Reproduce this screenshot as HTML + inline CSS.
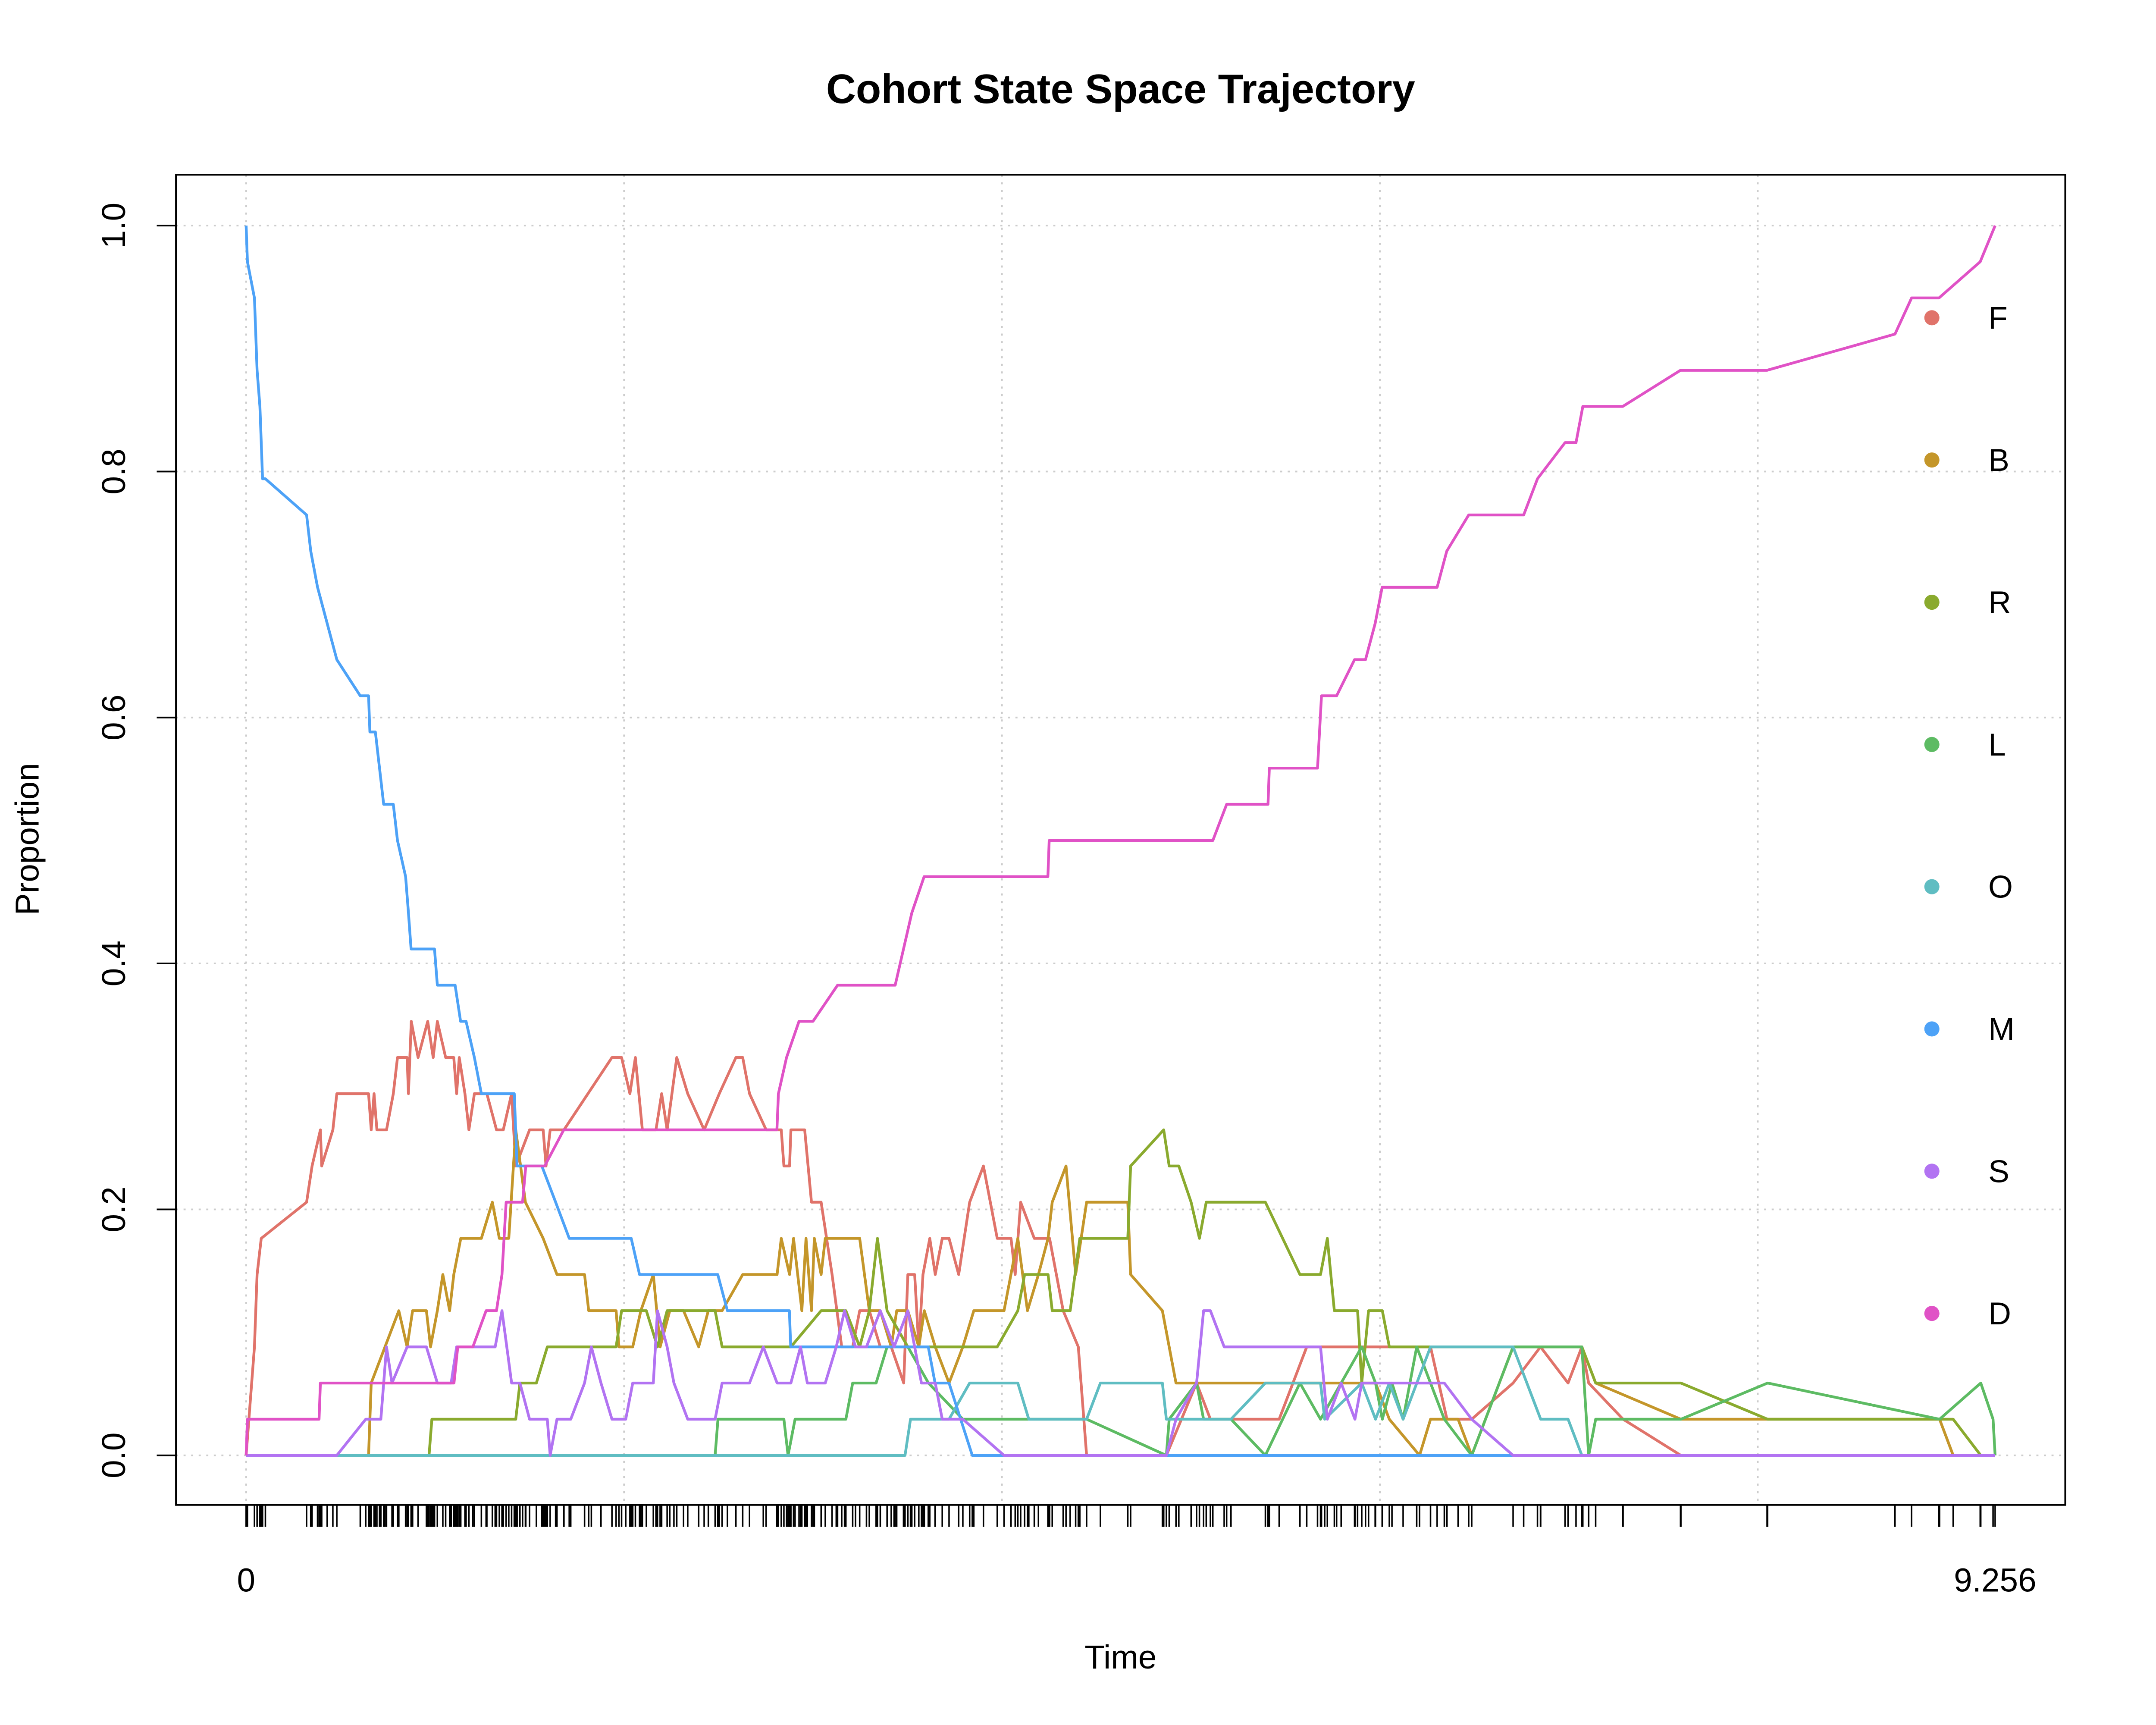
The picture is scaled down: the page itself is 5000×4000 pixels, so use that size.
<!DOCTYPE html>
<html><head><meta charset="utf-8"><style>
html,body{margin:0;padding:0;background:#fff;}
svg{display:block;font-family:"Liberation Sans",Arial,sans-serif;}
</style></head><body>
<svg id="chart" width="5000" height="4000" viewBox="0 0 1568 1254" preserveAspectRatio="none" xmlns="http://www.w3.org/2000/svg">
<rect width="1568" height="1254" fill="#fff"/>
<text x="815" y="75" text-anchor="middle" font-size="30" font-weight="bold">Cohort State Space Trajectory</text>
<text x="815" y="1213" text-anchor="middle" font-size="24">Time</text>
<text transform="translate(28,610) rotate(-90)" text-anchor="middle" font-size="24">Proportion</text>
<g id="grid"></g>
<g id="series"></g>
<rect x="128" y="127" width="1374" height="967" fill="none" stroke="#000" stroke-width="1.3"/>
<g id="axes"></g>
<g id="legend"></g>
</svg>
<script>
const N = 34;
const tMax = 9.256;
const yTicks = [0, 0.2, 0.4, 0.6, 0.8, 1.0];
const yTickLabels = ["0.0","0.2","0.4","0.6","0.8","1.0"];
const xGrid = [0, 2, 4, 6, 8];
const xTickLabels = ["0", "9.256"];
const categories = ["F","B","R","L","O","M","S","D"];
const colors = ["#E0736A","#C4962A","#8AAA2E","#5DBB63","#5FBDC2","#4DA2F7","#B273F2","#E052C6"];

const seriesF = [[0,0],[.044,3],[.058,5],[.080,6],[.320,7],[.349,8],[.393,9],[.400,8],[.459,9],[.480,10],[.648,10],[.662,9],[.677,10],[.692,9],[.743,9],[.779,10],[.801,11],[.852,11],[.859,10],[.874,12],[.910,11],[.961,12],[.990,11],[1.012,12],[1.056,11],[1.099,11],[1.114,10],[1.128,11],[1.158,10],[1.179,9],[1.208,10],[1.274,10],[1.325,9],[1.361,9],[1.405,10],[1.427,8],[1.500,9],[1.572,9],[1.587,8],[1.609,9],[1.682,9],[1.936,11],[1.987,11],[2.031,10],[2.060,11],[2.097,9],[2.169,9],[2.199,10],[2.228,9],[2.279,11],[2.337,10],[2.424,9],[2.504,10],[2.592,11],[2.628,11],[2.664,10],[2.752,9],[2.832,9],[2.846,8],[2.876,8],[2.883,9],[2.956,9],[2.992,7],[3.043,7],[3.101,5],[3.152,3],[3.210,3],[3.247,4],[3.298,4],[3.356,3],[3.414,3],[3.480,2],[3.502,5],[3.538,5],[3.560,3],[3.582,5],[3.618,6],[3.647,5],[3.684,6],[3.720,6],[3.771,5],[3.829,7],[3.902,8],[3.975,6],[4.048,6],[4.070,5],[4.099,7],[4.171,6],[4.252,6],[4.324,4],[4.404,3],[4.448,0],[4.870,0],[5.030,2],[5.103,1],[5.467,1],[5.613,3],[5.722,3],[5.904,3],[6.268,3],[6.355,1],[6.486,1],[6.705,2],[6.850,3],[6.996,2],[7.069,3],[7.105,2],[7.287,1],[7.593,0],[9.256,0]];
const seriesB = [[0,0],[.648,0],[.662,2],[.735,3],[.808,4],[.852,3],[.881,4],[.954,4],[.976,3],[1.012,4],[1.041,5],[1.077,4],[1.099,5],[1.136,6],[1.245,6],[1.303,7],[1.340,6],[1.390,6],[1.427,9],[1.478,7],[1.572,6],[1.645,5],[1.791,5],[1.813,4],[1.958,4],[1.973,3],[2.046,3],[2.089,4],[2.155,5],[2.191,3],[2.242,4],[2.315,4],[2.395,3],[2.446,4],[2.519,4],[2.628,5],[2.810,5],[2.832,6],[2.876,5],[2.897,6],[2.941,4],[2.963,6],[2.992,4],[3.007,6],[3.043,5],[3.065,6],[3.247,6],[3.298,4],[3.356,4],[3.414,3],[3.443,4],[3.502,4],[3.560,3],[3.589,4],[3.647,3],[3.720,2],[3.793,3],[3.851,4],[4.011,4],[4.084,6],[4.135,4],[4.193,5],[4.244,6],[4.266,7],[4.339,8],[4.390,5],[4.448,7],[4.666,7],[4.681,5],[4.849,4],[4.921,2],[5.977,2],[6.050,1],[6.210,0],[6.268,1],[6.414,1],[6.486,0],[6.705,3],[7.069,3],[7.142,2],[7.593,1],[8.962,1],[9.034,0],[9.256,0]];
const seriesR = [[0,0],[.968,0],[.983,1],[1.427,1],[1.449,2],[1.536,2],[1.594,3],[1.958,3],[1.987,4],[2.118,4],[2.177,3],[2.228,4],[2.482,4],[2.519,3],[2.883,3],[3.043,4],[3.174,4],[3.247,3],[3.298,4],[3.341,6],[3.392,4],[3.502,3],[3.975,3],[4.084,4],[4.120,5],[4.244,5],[4.266,4],[4.361,4],[4.412,6],[4.666,6],[4.681,8],[4.856,9],[4.885,8],[4.936,8],[5.001,7],[5.045,6],[5.081,7],[5.394,7],[5.577,5],[5.686,5],[5.722,6],[5.759,4],[5.882,4],[5.904,2],[5.940,4],[6.013,4],[6.050,3],[7.069,3],[7.142,2],[7.593,2],[8.052,1],[9.034,1],[9.180,0],[9.256,0]];
const seriesL = [[0,0],[2.482,0],[2.497,1],[2.846,1],[2.868,0],[2.905,1],[3.174,1],[3.210,2],[3.334,2],[3.392,3],[3.502,3],[3.611,2],[3.793,1],[4.448,1],[4.870,0],[4.885,1],[5.030,2],[5.067,1],[5.212,1],[5.394,0],[5.577,2],[5.686,1],[5.904,3],[5.977,2],[6.013,1],[6.064,2],[6.123,1],[6.195,3],[6.341,1],[6.486,0],[6.705,3],[7.069,3],[7.105,0],[7.142,1],[7.593,1],[8.052,2],[8.962,1],[9.180,2],[9.245,1],[9.256,0]];
const seriesO = [[0,0],[3.487,0],[3.516,1],[3.720,1],[3.829,2],[4.084,2],[4.142,1],[4.448,1],[4.521,2],[4.849,2],[4.870,1],[5.212,1],[5.394,2],[5.686,2],[5.708,1],[5.904,2],[5.977,1],[6.050,2],[6.123,1],[6.268,3],[6.705,3],[6.851,1],[6.996,1],[7.069,0],[9.256,0]];
const seriesM = [[0,34],[.007,33],[.044,32],[.058,30],[.073,29],[.087,27],[.102,27],[.320,26],[.342,25],[.378,24],[.429,23],[.480,22],[.604,21],[.648,21],[.655,20],[.684,20],[.706,19],[.728,18],[.779,18],[.801,17],[.844,16],[.859,15],[.873,14],[.997,14],[1.012,13],[1.106,13],[1.135,12],[1.164,12],[1.208,11],[1.245,10],[1.303,10],[1.419,10],[1.434,8],[1.565,8],[1.638,7],[1.710,6],[2.038,6],[2.082,5],[2.496,5],[2.547,4],[2.875,4],[2.882,3],[3.479,3],[3.610,3],[3.646,2],[3.720,2],[3.843,0],[9.256,0]];
const seriesS = [[0,0],[.480,0],[.633,1],[.713,1],[.743,3],[.772,2],[.852,3],[.954,3],[1.012,2],[1.085,2],[1.114,3],[1.318,3],[1.354,4],[1.405,2],[1.449,2],[1.500,1],[1.594,1],[1.609,0],[1.645,1],[1.718,1],[1.791,2],[1.827,3],[1.878,2],[1.936,1],[2.009,1],[2.046,2],[2.155,2],[2.177,4],[2.228,3],[2.264,2],[2.337,1],[2.482,1],[2.519,2],[2.664,2],[2.737,3],[2.810,2],[2.883,2],[2.934,3],[2.970,2],[3.065,2],[3.123,3],[3.167,4],[3.225,3],[3.283,3],[3.356,4],[3.429,3],[3.502,4],[3.574,2],[3.647,2],[3.684,1],[3.793,1],[4.011,0],[4.870,0],[4.921,1],[5.030,2],[5.067,4],[5.103,4],[5.176,3],[5.686,3],[5.722,1],[5.795,2],[5.868,1],[5.904,2],[6.341,2],[6.486,1],[6.705,0],[9.256,0]];
const seriesD = [[0,0],[.007,1],[.386,1],[.393,2],[1.100,2],[1.120,3],[1.200,3],[1.270,4],[1.325,4],[1.354,5],[1.376,7],[1.405,7],[1.463,7],[1.480,8],[1.580,8],[1.681,9],[2.809,9],[2.817,10],[2.860,11],[2.926,12],[3.000,12],[3.130,13],[3.435,13],[3.479,14],[3.523,15],[3.588,16],[4.243,16],[4.250,17],[5.116,17],[5.189,18],[5.408,18],[5.415,19],[5.670,19],[5.691,21],[5.771,21],[5.866,22],[5.924,22],[5.975,23],[6.012,24],[6.303,24],[6.354,25],[6.470,26],[6.761,26],[6.834,27],[6.980,28],[7.038,28],[7.074,29],[7.285,29],[7.591,30],[8.049,30],[8.726,31],[8.814,32],[8.959,32],[9.177,33],[9.256,34]];
const allSeries = [seriesF, seriesB, seriesR, seriesL, seriesO, seriesM, seriesS, seriesD];

const NS = "http://www.w3.org/2000/svg";
const X0 = 179, X1 = 1451, Y0 = 1058, Y1 = 164;
function xScale(t){ return X0 + (t / tMax) * (X1 - X0); }
function yScale(p){ return Y0 - p * (Y0 - Y1); }
function mk(tag, attrs, parent){
  const e = document.createElementNS(NS, tag);
  for (const k in attrs) e.setAttribute(k, attrs[k]);
  parent.appendChild(e); return e;
}
const grid = document.getElementById('grid');
const axes = document.getElementById('axes');
const seriesG = document.getElementById('series');
const legend = document.getElementById('legend');

yTicks.forEach((v, i) => {
  const y = yScale(v);
  const gl = mk('line', {x1:128, x2:1502, y1:y, y2:y, stroke:'#ccc', 'stroke-dasharray':'1.5,4', 'stroke-width':1.2}, grid);
  
  
  const tk = mk('line', {x1:128, x2:114, y1:y, y2:y, stroke:'#000', 'stroke-width':1.2}, axes);
  
  
  const tl = mk('text', {transform:'translate(91,' + y + ') rotate(-90)', 'text-anchor':'middle', 'font-size':24}, axes);
  tl.textContent = yTickLabels[i];
  
  
});
xGrid.forEach(v => {
  const x = xScale(v);
  const gl = mk('line', {x1:x, x2:x, y1:127, y2:1094, stroke:'#ccc', 'stroke-dasharray':'1.5,4', 'stroke-width':1.2}, grid);
  
  
});
const times = new Set();
allSeries.forEach(s => s.forEach(p => times.add(p[0])));
times.forEach(t => {
  const r = mk('line', {x1:xScale(t), x2:xScale(t), y1:1094, y2:1110, stroke:'#000', 'stroke-width':1.1}, axes);
  
  
});
[0, tMax].forEach((v, i) => {
  const tl = mk('text', {x:xScale(v), y:1157, 'text-anchor':'middle', 'font-size':24}, axes);
  tl.textContent = xTickLabels[i];
  
  
});
allSeries.forEach((s, i) => {
  const pts = s.map(p => xScale(p[0]).toFixed(2) + ',' + yScale(p[1] / N).toFixed(2)).join(' ');
  const pl = mk('polyline', {points:pts, fill:'none', stroke:colors[i], 'stroke-width':2, 'stroke-linejoin':'round'}, seriesG);
  
  
  const y = 231 + i * 103.4;
  const c = mk('circle', {cx:1405, cy:y, r:5.5, fill:colors[i]}, legend);
  
  
  const lt = mk('text', {x:1446, y:y + 8, 'font-size':23}, legend);
  lt.textContent = categories[i];
  
  
});
</script>
</body></html>
